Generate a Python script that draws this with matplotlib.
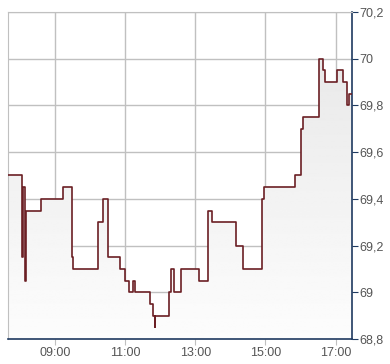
import numpy as np
import matplotlib
matplotlib.use("Agg")
from matplotlib import pyplot as plt
from matplotlib.ticker import FuncFormatter

# step changes: time of change and new price
times = ["07:40", "08:04", "08:05", "08:06", "08:09", "08:11", "08:36", "09:14",
         "09:30", "09:31", "10:14", "10:23", "10:31", "10:52", "11:00", "11:07",
         "11:14", "11:17", "11:43", "11:47", "11:51", "11:52", "12:16", "12:18",
         "12:24", "12:36", "13:06", "13:22", "13:29", "14:09", "14:22", "14:55",
         "14:57", "15:50", "16:00", "16:04", "16:31", "16:39", "16:41", "17:02",
         "17:13", "17:19", "17:23", "17:28"]
prices = [69.50, 69.15, 69.37, 69.45, 69.05, 69.35, 69.40, 69.45,
          69.15, 69.10, 69.30, 69.40, 69.15, 69.10, 69.05, 69.00,
          69.05, 69.00, 68.95, 68.90, 68.85, 68.90, 69.00, 69.10,
          69.00, 69.10, 69.05, 69.35, 69.30, 69.20, 69.10, 69.40,
          69.45, 69.50, 69.70, 69.75, 70.00, 69.95, 69.90, 69.95,
          69.90, 69.80, 69.85, 69.85]

x_ticks = ["09:00", "11:00", "13:00", "15:00", "17:00"]
y_ticks = [68.8, 69.0, 69.2, 69.4, 69.6, 69.8, 70.0, 70.2]


def to_hours(s):
    h, m = s.split(":")
    return int(h) + int(m) / 60.0


t = np.array([to_hours(s) for s in times])
p = np.array(prices)

fig = plt.figure(figsize=(3.9, 3.64), dpi=100)
ax = fig.add_axes([8 / 390, 25 / 364, 344 / 390, 327 / 364])

y0, y1 = 68.8, 70.2

# gradient fill under the step line, light grey at the top fading to white
poly = ax.fill_between(t, p, y0, step="post", color="none")
grad = np.linspace(0.99, 0.90, 256).reshape(-1, 1)
img = ax.imshow(grad, cmap="gray", vmin=0, vmax=1, aspect="auto",
                extent=(t[0], t[-1], y0, y1), origin="lower", zorder=1)
img.set_clip_path(poly.get_paths()[0], transform=ax.transData)
ax.set_xlim(t[0], t[-1])
ax.set_ylim(y0, y1)

ax.step(t, p, where="post", color="#6b1f24", lw=1.2, zorder=3)

ax.set_xticks([to_hours(s) for s in x_ticks])
ax.set_xticklabels(x_ticks)
ax.set_yticks(y_ticks)
ax.yaxis.set_major_formatter(FuncFormatter(lambda v, _: f"{v:g}".replace(".", ",")))
ax.yaxis.tick_right()

ax.grid(True, color="#c0c0c0", lw=1, zorder=0)
ax.set_axisbelow(True)

for side in ("left", "top"):
    ax.spines[side].set_color("#c0c0c0")
for side in ("right", "bottom"):
    ax.spines[side].set_color("#1f3a60")
    ax.spines[side].set_linewidth(1.2)

ax.tick_params(axis="x", colors="#c0c0c0", length=4, labelcolor="#555555", pad=2)
ax.tick_params(axis="y", colors="#1f3a60", length=4, labelcolor="#555555", pad=1)
for lab in ax.get_xticklabels() + ax.get_yticklabels():
    lab.set_fontfamily("Liberation Sans")
    lab.set_fontsize(9)

fig.savefig("out.png", dpi=100)
